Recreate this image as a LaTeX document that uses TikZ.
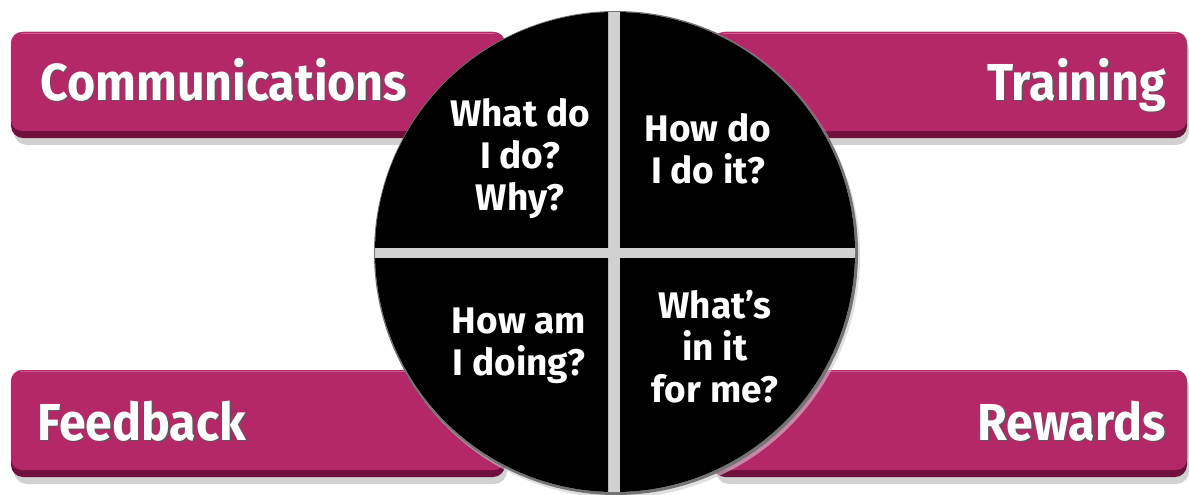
\documentclass[tikz,border=0pt]{standalone}
\usepackage{fontspec}
\setmainfont{Fira Sans}
\definecolor{mag}{RGB}{180,40,104}
\definecolor{magdark}{RGB}{112,16,60}
\definecolor{maglight}{RGB}{206,92,144}
\newcommand{\narrow}[1]{\scalebox{0.93}[1]{#1}}
\tikzset{
  barshadow/.style={fill=black, opacity=0.18, rounded corners=13pt},
  bardark/.style={fill=magdark, rounded corners=12pt},
  barface/.style={fill=mag, rounded corners=11pt},
  bartop/.style={draw=maglight, line width=1.2pt},
  lblshadow/.style={text=black!65, inner sep=0pt, font=\fontsize{52}{60}\selectfont\bfseries},
  lbl/.style={text=white, inner sep=0pt, font=\fontsize{52}{60}\selectfont\bfseries},
  qtext/.style={text=white, align=center, font=\fontsize{37}{42}\selectfont\bfseries},
}
\begin{document}
\begin{tikzpicture}[x=1pt,y=-1pt]
\useasboundingbox (0,0) rectangle (1189,495);
\fill[white] (0,0) rectangle (1189,495);
% bars
\foreach \xa/\xb/\ya/\yb in {11/505/32/138, 713/1187/32/138, 11/505/370/477, 713/1187/370/477}{
  \fill[barshadow] (\xa+3,\ya+5) rectangle (\xb+2,\yb+7);
  \fill[bardark] (\xa,\ya) rectangle (\xb,\yb);
  \fill[barface] (\xa,\ya) rectangle (\xb,\yb-7);
  \draw[bartop] (\xa+10,\ya+1.2) -- (\xb-10,\ya+1.2);
}
% bar labels
\node[lblshadow, anchor=base west] at (41.5,101.5) {\narrow{Communications}};
\node[lbl, anchor=base west] (comm) at (40,100) {\narrow{Communications}};
\node[lblshadow, anchor=base east] at (1167.5,101.5) {\narrow{Training}};
\node[lbl, anchor=base east] (train) at (1166,100) {\narrow{Training}};
\node[lblshadow, anchor=base west] at (38.5,441.5) {\narrow{Feedback}};
\node[lbl, anchor=base west] (feed) at (37,440) {\narrow{Feedback}};
\node[lblshadow, anchor=base east] at (1167.5,441.5) {\narrow{Rewards}};
\node[lbl, anchor=base east] (rew) at (1166,440) {\narrow{Rewards}};
% circle
\fill[black!20, opacity=0.6] (618,256) circle (242);
\fill[black!55] (616,253) circle (242);
\fill[black!18] (615,252) circle (240);
\begin{scope}
  \clip (0,0) rectangle (608,247);
  \fill[black] (615,252) circle (240);
\end{scope}
\begin{scope}
  \clip (620,0) rectangle (1189,247);
  \fill[black] (615,252) circle (240);
\end{scope}
\begin{scope}
  \clip (0,258) rectangle (608,495);
  \fill[black] (615,252) circle (240);
\end{scope}
\begin{scope}
  \clip (620,258) rectangle (1189,495);
  \fill[black] (615,252) circle (240);
\end{scope}
% quadrant texts
\node[qtext, anchor=base] (q1) at (520,210) {What do\\I do?\\Why?};
\node[qtext, anchor=base] (q2) at (708,183) {How do\\I do it?};
\node[qtext, anchor=base] (q3) at (519,375) {How am\\I doing?};
\node[qtext, anchor=base] (q4) at (715,402) {What’s\\in it\\for me?};
\end{tikzpicture}
\end{document}
